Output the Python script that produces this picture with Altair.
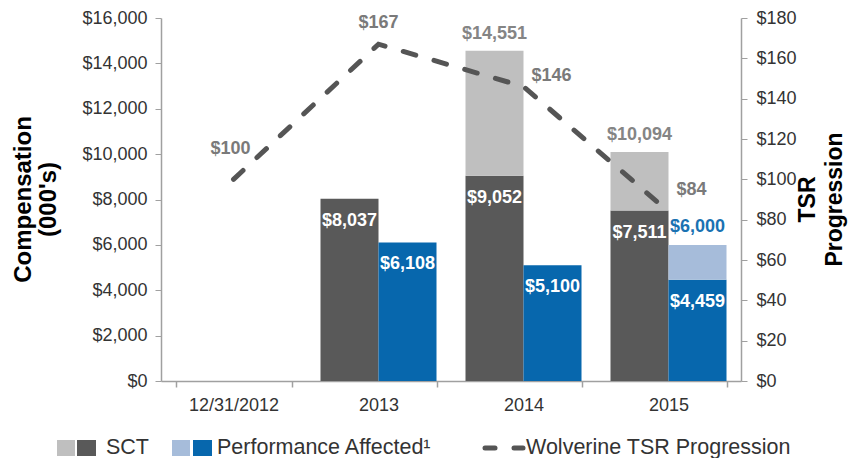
import altair as alt
import pandas as pd

# ---------------- data ----------------
categories = ["12/31/2012", "2013", "2014", "2015"]
series = ["SCT", "Performance Affected¹"]
sct_base = [None, 8037, 9052, 7511]
sct_total = [None, 8037, 14551, 10094]
perf_base = [None, 6108, 5100, 4459]
perf_total = [None, 6108, 5100, 6000]
tsr_values = [100, 167, 146, 84]
legend_labels = ["SCT", "Performance Affected¹", "Wolverine TSR Progression"]

part_keys = [("SCT base", "SCT top"), ("PA base", "PA top")]
parts = ["SCT base", "SCT top", "PA base", "PA top"]
part_colors = ["#595959", "#bfbfbf", "#0767ad", "#a6bcda"]

bar_rows, inner_rows, top_rows = [], [], []
for i, cat in enumerate(categories):
    for s, (bvals, tvals), keys in zip(series, [(sct_base, sct_total), (perf_base, perf_total)], part_keys):
        b, t = bvals[i], tvals[i]
        if b is None:
            continue
        bar_rows.append(dict(category=cat, series=s, part=keys[0], lo=0, hi=b))
        inner_rows.append(dict(category=cat, series=s, hi=b))
        if t > b:
            bar_rows.append(dict(category=cat, series=s, part=keys[1], lo=b, hi=t))
            top_rows.append(dict(category=cat, series=s, hi=t))

bars_df = pd.DataFrame(bar_rows)
inner_df = pd.DataFrame(inner_rows)
top_df = pd.DataFrame(top_rows)
line_df = pd.DataFrame(dict(category=categories, tsr=tsr_values))
one = pd.DataFrame({"k": [0]})

FONT = "Liberation Sans"

# ---------------- encodings ----------------
x_enc = alt.X(
    "category:N",
    sort=categories,
    scale=alt.Scale(domain=categories, paddingInner=0.2, paddingOuter=0.1),
    axis=alt.Axis(title=None, labelAngle=0, tickBand="extent", labelFontSize=18,
                  tickSize=6, labelPadding=9, domainWidth=1.5, tickWidth=1.5),
)
xoff_enc = alt.XOffset("series:N", sort=series,
                       scale=alt.Scale(domain=series, paddingInner=0, paddingOuter=0))

y_left = alt.Y(
    "hi:Q",
    scale=alt.Scale(domain=[0, 16000], nice=False),
    axis=alt.Axis(values=list(range(0, 16001, 2000)), format="$,.0f",
                  title=["Compensation", "(000's)"], titleFontSize=24,
                  titleFontWeight="bold", titleColor="#000000", titleAngle=270,
                  titleX=-126, titleY=181, titleAlign="center", titleBaseline="bottom",
                  titleLineHeight=25, labelFontSize=18, tickSize=6, labelPadding=8,
                  domainWidth=1.5, grid=False),
)

y_right = alt.Y(
    "tsr:Q",
    scale=alt.Scale(domain=[0, 180], nice=False),
    axis=alt.Axis(orient="right", values=list(range(0, 181, 20)), format="$,.0f",
                  title=["TSR", "Progression"], titleFontSize=23,
                  titleFontWeight="bold", titleColor="#000000", titleAngle=270,
                  titleX=78, titleY=181, titleAlign="center", titleBaseline="bottom",
                  titleLineHeight=27, labelFontSize=18, tickSize=6, labelPadding=9,
                  domainWidth=1.5, grid=False),
)

# ---------------- bar layers ----------------
bars = alt.Chart(bars_df).mark_bar().encode(
    x=x_enc, xOffset=xoff_enc, y=y_left, y2="lo:Q",
    color=alt.Color("part:N", scale=alt.Scale(domain=parts, range=part_colors), legend=None),
)

inner = alt.Chart(inner_df).mark_text(
    dy=22, color="white", fontSize=18, fontWeight="bold", baseline="middle", font=FONT
).encode(x=x_enc, xOffset=xoff_enc, y=alt.Y("hi:Q"), text=alt.Text("hi:Q", format="$,.0f"))

top_sct = alt.Chart(top_df).transform_filter(alt.datum.series == series[0]).mark_text(
    dy=-17, color="#858585", fontSize=18, fontWeight="bold", baseline="middle", font=FONT
).encode(x=x_enc, xOffset=xoff_enc, y=alt.Y("hi:Q"), text=alt.Text("hi:Q", format="$,.0f"))

top_pa = alt.Chart(top_df).transform_filter(alt.datum.series == series[1]).mark_text(
    dy=-18, color="#1a72b2", fontSize=18, fontWeight="bold", baseline="middle", font=FONT
).encode(x=x_enc, xOffset=xoff_enc, y=alt.Y("hi:Q"), text=alt.Text("hi:Q", format="$,.0f"))

# ---------------- manual legend ----------------
LEG_Y = 430

def swatch(x1, x2, color):
    return alt.Chart(one).mark_rect(color=color).encode(
        x=alt.value(x1), x2=alt.value(x2), y=alt.value(LEG_Y - 8), y2=alt.value(LEG_Y + 8))

def legtext(x, label):
    return alt.Chart(one).mark_text(align="left", baseline="middle", fontSize=21.5,
                                    color="#333333", font=FONT).encode(
        x=alt.value(x), y=alt.value(LEG_Y), text=alt.value(label))

def dash(x1, x2):
    return alt.Chart(one).mark_rule(color="#555555", strokeWidth=5, strokeCap="round").encode(
        x=alt.value(x1), x2=alt.value(x2), y=alt.value(LEG_Y))

legend_layers = [
    swatch(-104, -86, part_colors[1]), swatch(-84, -65, part_colors[0]), legtext(-55, legend_labels[0]),
    swatch(11, 29, part_colors[3]), swatch(32, 51, part_colors[2]), legtext(56, legend_labels[1]),
    dash(324, 334), dash(353, 362), legtext(365, legend_labels[2]),
]

left = alt.layer(bars, inner, top_sct, top_pa, *legend_layers)

# ---------------- TSR line ----------------
line = alt.Chart(line_df).mark_line(
    color="#555555", strokeWidth=5, strokeDash=[13, 19], strokeCap="round"
).encode(x=x_enc, y=y_right)

label_offsets = [(categories[0], -3, -30), (categories[1], 0, -21),
                 (categories[2], 28, -11), (categories[3], 23, -22)]
line_labels = [
    alt.Chart(line_df).transform_filter(alt.datum.category == cat).mark_text(
        dx=dx, dy=dy, color="#7a7a7a", fontSize=18, fontWeight="bold",
        baseline="middle", font=FONT
    ).encode(x=x_enc, y=alt.Y("tsr:Q"), text=alt.Text("tsr:Q", format="$,.0f"))
    for cat, dx, dy in label_offsets
]

right = alt.layer(line, *line_labels)

chart = alt.layer(left, right).resolve_scale(y="independent").properties(
    width=580, height=363,
    autosize=alt.AutoSizeParams(type="none"),
    padding={"left": 153, "top": 10, "right": 114, "bottom": 77},
).configure_view(stroke=None).configure_axis(
    labelFont=FONT, titleFont=FONT, labelColor="#333333",
    domainColor="#a0a0a0", tickColor="#a0a0a0",
).configure_text(font=FONT)

chart.save("out.html", embed_options={"renderer": "svg", "actions": False})
